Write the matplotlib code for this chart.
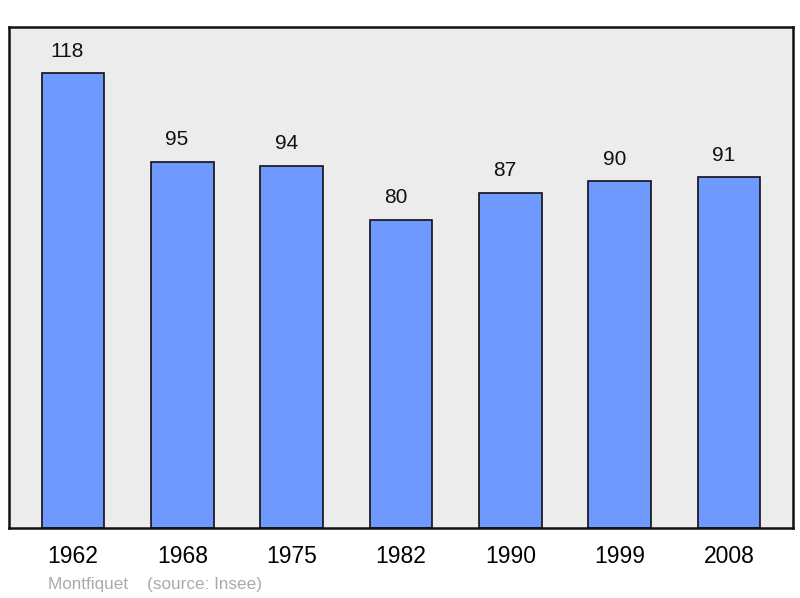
import matplotlib.pyplot as plt
import numpy as np

plt.rcParams['font.family'] = ['Liberation Sans', 'DejaVu Sans']

years = ["1962", "1968", "1975", "1982", "1990", "1999", "2008"]
population = [118, 95, 94, 80, 87, 90, 91]

fig = plt.figure(figsize=(8, 5.98), dpi=100)
ax = fig.add_axes([9/800, 70/598, 784/800, 501/598])
ax.set_facecolor('#ececec')

x = np.arange(len(years))
bars = ax.bar(x, population, width=0.575, color='#7099ff',
              edgecolor='#111111', linewidth=1.2, zorder=2)

for xi, v in zip(x, population):
    ax.text(xi - 0.05, v + 5.7, str(v), ha='center', va='center',
            fontsize=15, color='#111111')

ax.set_xlim(-0.585, 6.585)
ax.set_ylim(0, 130)
ax.set_yticks([])
ax.set_xticks(x)
ax.set_xticklabels(years, fontsize=16.5)
ax.tick_params(axis='x', length=0, pad=12)
for s in ax.spines.values():
    s.set_linewidth(1.8)
    s.set_color('#111111')

fig.text(48/800, 1 - 584/598, "Montfiquet    (source: Insee)",
         fontsize=12.3, color='#aaaaaa', va='center', ha='left')

fig.savefig('out.png', dpi=100)
